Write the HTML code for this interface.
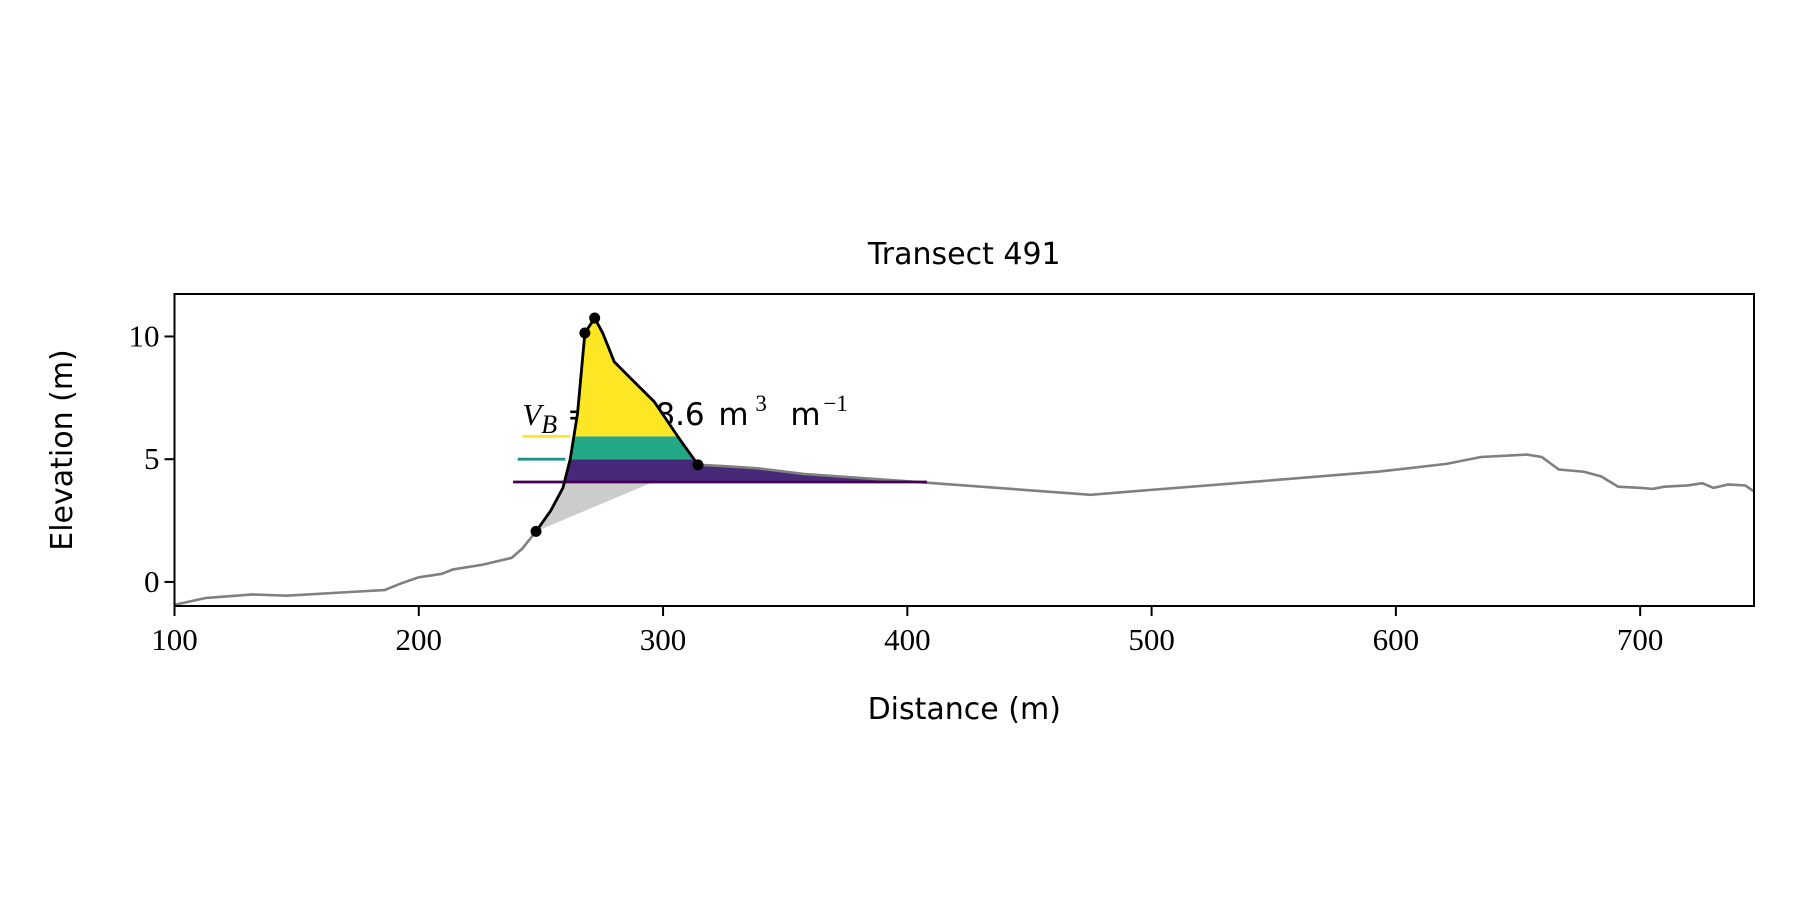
<!DOCTYPE html>
<html><head><meta charset="utf-8"><style>
body{margin:0;background:#fff}
svg{display:block}
.tk{font-family:"Liberation Serif",serif;font-size:31px}
.sn{font-family:"DejaVu Sans","Liberation Sans",sans-serif;font-size:30px}
</style></head><body>
<svg id="chart" width="1800" height="900" xmlns="http://www.w3.org/2000/svg"></svg>
<script>
const profileX=[100,113,132,146,170,186,193,200,209.5,214,226,238,242.4,248,254,259,262,265,268,272,275.3,280,287,296.4,306,314.3,324.6,338.7,357.5,404.5,475,498.5,545.5,592.5,620.7,634.8,653.6,659.7,666.7,677,684,691,700.6,705,710,719.4,725.5,730,736,743,746.6];
const profileY=[-0.93,-0.65,-0.51,-0.56,-0.42,-0.33,-0.05,0.19,0.33,0.51,0.7,0.98,1.36,2.06,2.9,3.83,5.0,6.87,10.14,10.75,10.14,8.97,8.27,7.34,5.93,4.77,4.72,4.63,4.4,4.07,3.55,3.74,4.11,4.49,4.81,5.09,5.19,5.09,4.58,4.49,4.3,3.88,3.83,3.79,3.88,3.93,4.02,3.83,3.97,3.93,3.69];
const duneStart=248, duneEnd=314.3;
const markerX=[248,268,272,314.3];
const markerY=[2.06,10.14,10.75,4.77];
const levels=[4.07,5.0,5.93];
const levelStartX=[238.6,240.5,242.4];
const levelEndX=[408,260,262];
const xTicks=[100,200,300,400,500,600,700];
const yTicks=[0,5,10];
const volumeText="8.6";
const X0=174.5,X1=1754,Y0=294,Y1=606;
const xmin=100,xmax=746.6,ymin=-0.98,ymax=11.73;
const sx=v=>X0+(v-xmin)/(xmax-xmin)*(X1-X0);
const sy=v=>Y1-(v-ymin)/(ymax-ymin)*(Y1-Y0);
const svg=document.getElementById('chart');
const NS='http://www.w3.org/2000/svg';
function mk(t,a,p){const e=document.createElementNS(NS,t);for(const k in a)e.setAttribute(k,a[k]);(p||svg).appendChild(e);return e;}
const defs=mk('defs',{});
const cp=mk('clipPath',{id:'ax'},defs);mk('rect',{x:X0,y:Y0,width:X1-X0,height:Y1-Y0},cp);
let t=mk('text',{x:(X0+X1)/2,y:264,'text-anchor':'middle',class:'sn','font-size':'34'});t.textContent='Transect 491';

const g=mk('g',{'clip-path':'url(#ax)'});

const lx=sx(242.4);
t=mk('text',{x:lx,y:425,class:'tk','font-size':'36'},g);

t.innerHTML='<tspan font-style="italic">V</tspan><tspan font-style="italic" font-size="26" dy="8">B</tspan><tspan dy="-8" font-family="DejaVu Sans,Liberation Sans,sans-serif" font-size="31"> = </tspan><tspan x="'+(lx+133)+'" font-family="DejaVu Sans,Liberation Sans,sans-serif" font-size="31">'+volumeText+'</tspan><tspan x="'+(lx+196)+'" font-family="DejaVu Sans,Liberation Sans,sans-serif" font-size="31">m</tspan><tspan x="'+(lx+233)+'" font-size="23" dy="-14">3</tspan><tspan x="'+(lx+268)+'" dy="14" font-family="DejaVu Sans,Liberation Sans,sans-serif" font-size="31">m</tspan><tspan x="'+(lx+301)+'" font-size="23" dy="-14">−1</tspan>';
function underPts(a,b){let pts=[];for(let i=0;i<profileX.length;i++){if(profileX[i]>=a-60&&profileX[i]<=b+60)pts.push([sx(profileX[i]),sy(profileY[i])]);}
 const first=pts[0],last=pts[pts.length-1];pts.push([last[0],Y1+50]);pts.push([first[0],Y1+50]);return pts.map(p=>p.join(',')).join(' ');}
const cg=mk('clipPath',{id:'greyc'},defs);
mk('polygon',{points:[[sx(duneStart),sy(2.06)],[sx(296),sy(levels[0])],[sx(240),sy(levels[0])]].map(p=>p.join(',')).join(' ')},cg);
let e=mk('polygon',{points:underPts(duneStart,300),fill:'#cccccc','clip-path':'url(#greyc)'},g);

const bands=[[levels[0],levels[1],'#482878',410],[levels[1],levels[2],'#22a884',330],[levels[2],12,'#fde725',330]];
const bandNames=['band-low','band-mid','band-high'];
bands.forEach((b,i)=>{const c=mk('clipPath',{id:'b'+i},defs);
 mk('rect',{x:sx(duneStart),y:sy(b[1]),width:sx(b[3])-sx(duneStart),height:sy(b[0])-sy(b[1])},c);
 const p=mk('polygon',{points:underPts(duneStart,b[3]),fill:b[2],'clip-path':'url(#b'+i+')'},g);
 });
e=mk('polyline',{points:profileX.map((x,i)=>sx(x)+','+sy(profileY[i])).join(' '),fill:'none',stroke:'#808080','stroke-width':2.6},g);

const lc=['#440154','#21918c','#fde725'];
levels.forEach((l,i)=>{const ln=mk('line',{x1:sx(levelStartX[i]),x2:sx(levelEndX[i]),y1:sy(l),y2:sy(l),stroke:lc[i],'stroke-width':2.8},g);
 });
let dp=[];profileX.forEach((x,i)=>{if(x>=duneStart&&x<=duneEnd)dp.push(sx(x)+','+sy(profileY[i]));});
e=mk('polyline',{points:dp.join(' '),fill:'none',stroke:'#000','stroke-width':2.8,'stroke-linejoin':'round'},g);

markerX.forEach((x,i)=>{const c=mk('circle',{cx:sx(x),cy:sy(markerY[i]),r:5.5,fill:'#000'},g);
 });
e=mk('rect',{x:X0,y:Y0,width:X1-X0,height:Y1-Y0,fill:'none',stroke:'#000','stroke-width':2});

xTicks.forEach(v=>{mk('line',{x1:sx(v),x2:sx(v),y1:Y1,y2:Y1+10,stroke:'#000','stroke-width':2});
 const tx=mk('text',{x:sx(v),y:Y1+44,'text-anchor':'middle',class:'tk'});tx.textContent=v;
 });
yTicks.forEach(v=>{mk('line',{x1:X0-10,x2:X0,y1:sy(v),y2:sy(v),stroke:'#000','stroke-width':2});
 const tx=mk('text',{x:X0-15,y:sy(v)+10,'text-anchor':'end',class:'tk'});tx.textContent=v;
 });
t=mk('text',{x:(X0+X1)/2,y:719,'text-anchor':'middle',class:'sn'});t.textContent='Distance (m)';

t=mk('text',{x:0,y:0,'text-anchor':'middle',class:'sn',transform:'translate(72,450) rotate(-90)'});t.textContent='Elevation (m)';

</script>
</body></html>
